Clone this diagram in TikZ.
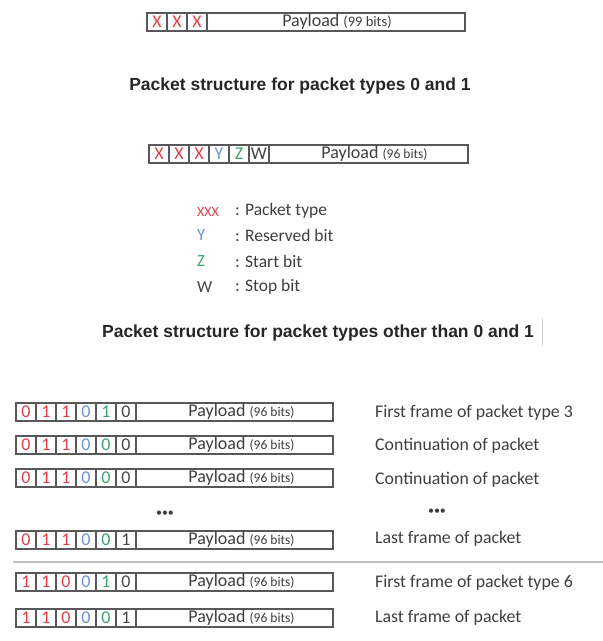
\documentclass[tikz,border=0pt]{standalone}
\usepackage{fontspec}
\setmainfont{Carlito}
\newfontfamily\headfont{Liberation Sans}

\definecolor{bitred}{RGB}{226,62,72}
\definecolor{bitblue}{RGB}{108,148,214}
\definecolor{bitgreen}{RGB}{58,164,108}
\definecolor{bitdark}{RGB}{70,70,70}
\definecolor{frameline}{RGB}{88,88,88}
\definecolor{labeltext}{RGB}{62,62,62}
\definecolor{rulegray}{RGB}{192,192,192}

\def\notesz{10}
\def\payshift{0pt}
\tikzset{
  bitcell/.style={draw=frameline, line width=1.5pt, minimum width=20pt,
    minimum height=18pt, inner sep=0pt},
  paybox/.style={draw=frameline, line width=1.5pt, minimum height=18pt,
    inner sep=0pt, text=labeltext},
  % type sizes and text offsets for the kinds of frame drawing
  topframe/.style={font=\fontsize{18}{18}\selectfont\def\notesz{14.5}\def\payshift{2pt}},
  midframe/.style={font=\fontsize{18}{18}\selectfont\def\notesz{13.5}\def\payshift{12pt}},
  smallframe/.style={font=\fontsize{18}{18}\selectfont\def\notesz{13.5}\def\payshift{14pt}},
  heading/.style={font=\headfont\bfseries\fontsize{17.5}{18}\selectfont,
    text=black!85, inner sep=0pt},
  legendkey/.style={anchor=west, inner sep=0pt, font=\fontsize{17}{17}\selectfont},
  legendtext/.style={anchor=west, inner sep=0pt, text=labeltext,
    font=\fontsize{17.5}{17}\selectfont},
  framelabel/.style={anchor=west, inner sep=0pt, text=labeltext,
    font=\fontsize{17.8}{18}\selectfont},
  dots/.style={inner sep=0pt, text=labeltext, font=\fontsize{12}{12}\selectfont},
}

% small-print bit count after "Payload"
\newcommand\bitsnote[1]{{\fontsize{\notesz}{\notesz}\selectfont(#1 bits)}}

% one frame: #1 size style, #2 name, #3 left x, #4 centre y, #5 cells as text/colour,
% #6 payload left x, #7 payload right x, #8 bit count
\newcommand\bitrow[8]{%
  \foreach \b/\c [count=\i] in {#5}{
    \node[bitcell, #1, text=\c] (#2-\i) at ({#3+(\i-0.5)*20},#4) {\b};
  }
  \node[paybox, #1, minimum width={(#7-#6)*1pt}] (#2-pay) at ({(#6+#7)/2},#4)
    {\hspace*{\payshift}Payload \bitsnote{#8}};
}

\begin{document}
\begin{tikzpicture}[x=1pt,y=-1pt]
\useasboundingbox (0,0) rectangle (603,641);

% packet types 0 and 1
\bitrow{topframe}{pa}{147}{22}{X/bitred,X/bitred,X/bitred}{207}{465}{99}
\node[heading] (title1) at (300,86) {Packet structure for packet types 0 and 1};

% other packet types
\bitrow{midframe}{pb}{149}{154}{X/bitred,X/bitred,X/bitred,Y/bitblue,Z/bitgreen,W/bitdark}{269}{468}{96}

% legend
\node[legendkey, text=bitred, font=\fontsize{14}{14}\selectfont] (kx) at (197,212) {XXX};
\node[legendkey, text=bitblue]  (ky) at (197,235) {Y};
\node[legendkey, text=bitgreen] (kz) at (197,261) {Z};
\node[legendkey, text=bitdark]  (kw) at (197,287) {W};
\node[legendtext] (lx) at (235,211) {: Packet type};
\node[legendtext] (ly) at (235,235) {: Reserved bit};
\node[legendtext] (lz) at (235,261) {: Start bit};
\node[legendtext] (lw) at (235,287) {: Stop bit};

\node[heading] (title2) at (318,333) {Packet structure for packet types other than 0 and 1};
\coordinate (tick-top) at (542,318);
\coordinate (tick-bot) at (542,346);
\draw[black!18, line width=1pt] (tick-top) -- (tick-bot);

% frames of packet type 3
\bitrow{smallframe}{f1}{16}{412}{0/bitred,1/bitred,1/bitred,0/bitblue,1/bitgreen,0/bitdark}{136}{333}{96}
\bitrow{smallframe}{f2}{16}{445}{0/bitred,1/bitred,1/bitred,0/bitblue,0/bitgreen,0/bitdark}{136}{333}{96}
\bitrow{smallframe}{f3}{16}{478}{0/bitred,1/bitred,1/bitred,0/bitblue,0/bitgreen,0/bitdark}{136}{333}{96}
\node[dots] (gap1) at (165,514) {•••};
\bitrow{smallframe}{f4}{16}{540}{0/bitred,1/bitred,1/bitred,0/bitblue,0/bitgreen,1/bitdark}{136}{333}{96}

\node[framelabel] (n1) at (375,413) {First frame of packet type 3};
\node[framelabel] (n2) at (375,446) {Continuation of packet};
\node[framelabel] (n3) at (375,480) {Continuation of packet};
\node[dots] (gap2) at (437,512) {•••};
\node[framelabel] (n4) at (375,539) {Last frame of packet};

% divider between packet types
\coordinate (sep-l) at (13,562);
\coordinate (sep-r) at (603,562);
\draw[rulegray, line width=1.5pt] (sep-l) -- (sep-r);

% frames of packet type 6
\bitrow{smallframe}{f5}{16}{582}{1/bitred,1/bitred,0/bitred,0/bitblue,1/bitgreen,0/bitdark}{136}{333}{96}
\bitrow{smallframe}{f6}{16}{618}{1/bitred,1/bitred,0/bitred,0/bitblue,0/bitgreen,1/bitdark}{136}{333}{96}

\node[framelabel] (n5) at (375,583) {First frame of packet type 6};
\node[framelabel] (n6) at (375,618) {Last frame of packet};
\end{tikzpicture}
\end{document}
